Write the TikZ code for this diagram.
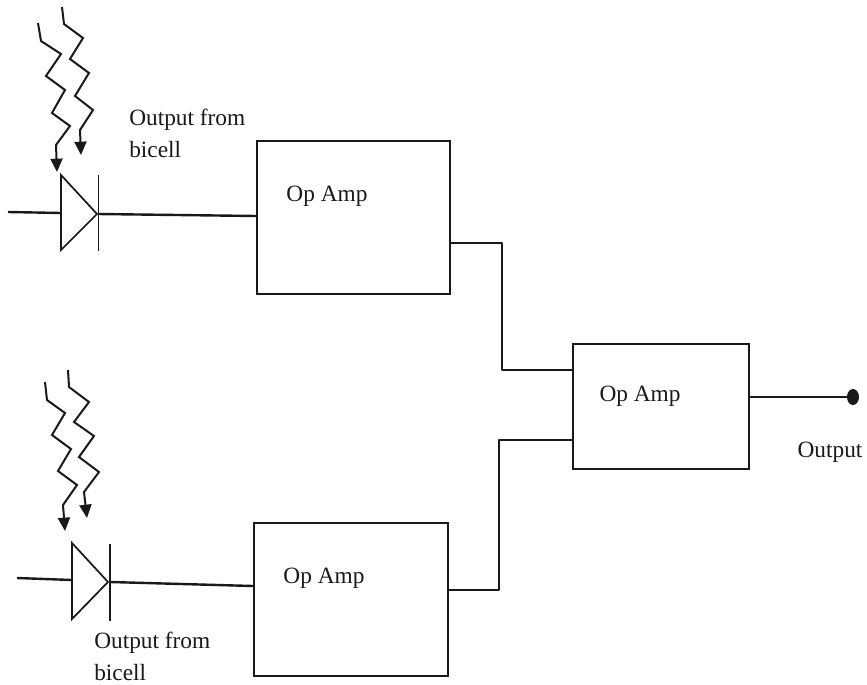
\documentclass[tikz,border=0pt]{standalone}
\usepackage{fontspec}
\setmainfont{Liberation Serif}
\usetikzlibrary{arrows.meta,shapes.geometric}
\tikzset{
  x=0.75pt,y=-0.75pt,
  wire/.style={draw=black!90,line width=1.8pt,line join=round},
  thin wire/.style={draw=black!90,line width=1.3pt},
  ampbox/.style={draw=black!90,line width=1.7pt,inner sep=0pt,anchor=north west},
  ray/.style={draw=black!90,line width=1.5pt,-{Triangle[length=10pt,width=9pt]}},
  lbl/.style={font=\fontsize{17.5pt}{24pt}\selectfont,text=black!90,inner sep=0pt},
  centred/.style={lbl,anchor=base},
  multi/.style={lbl,align=left,anchor=north west},
}
\begin{document}
\begin{tikzpicture}
\useasboundingbox (0,0) rectangle (867,685);
% boxes
\node[ampbox,minimum width=193*0.75pt,minimum height=153*0.75pt] (b1) at (256,140) {};
\node[ampbox,minimum width=194*0.75pt,minimum height=153*0.75pt] (b2) at (253,522) {};
\node[ampbox,minimum width=176*0.75pt,minimum height=125*0.75pt] (b3) at (572,343) {};
\node[centred] (t1) at (327,201) {Op Amp};
\node[centred] (t2) at (324,583) {Op Amp};
\node[centred] (t3) at (640,401) {Op Amp};
% top diode
\coordinate (d1a) at (61,175); \coordinate (d1b) at (61,250); \coordinate (d1c) at (97,214);
\draw[thin wire,line join=miter] (d1a) -- (d1b) -- (d1c) -- cycle;
\coordinate (d1t) at (98.5,175); \coordinate (d1u) at (98.5,251);
\draw[thin wire] (d1t) -- (d1u);
\coordinate (w1) at (8,212); \coordinate (w1e) at (61,213);
\draw[wire] (w1) -- (w1e);
\coordinate (d1o) at (98,214);
\draw[wire] (d1o) -- (b1.west |- 0,216);
% bottom diode
\coordinate (d2a) at (72,543); \coordinate (d2b) at (72,619); \coordinate (d2c) at (108,582);
\draw[thin wire,line join=miter] (d2a) -- (d2b) -- (d2c) -- cycle;
\coordinate (d2t) at (110,544); \coordinate (d2u) at (110,621);
\draw[thin wire] (d2t) -- (d2u);
\coordinate (w2) at (17,578); \coordinate (w2e) at (72,580);
\draw[wire] (w2) -- (w2e);
\coordinate (d2o) at (110,582);
\draw[wire] (d2o) -- (b2.west |- 0,586);
% connections
\draw[wire] (b1.east |- 0,243) -- (502,243) -- (502,370) -- (b3.west |- 0,370);
\draw[wire] (b2.east |- 0,590) -- (499,590) -- (499,440) -- (b3.west |- 0,440);
\node[ellipse,fill=black!90,inner sep=0pt,minimum width=9pt,minimum height=12pt] (dot) at (853,397) {};
\draw[wire] (b3.east |- 0,397) -- (dot);
% rays
\draw[ray] (38,23) -- (41,41) -- (61,54) -- (46,76) -- (65,90) -- (52,113) -- (70,126) -- (56,145) -- (57,172);
\draw[ray] (62,7) -- (64,24) -- (83,38) -- (70,59) -- (89,73) -- (75,96) -- (93,110) -- (80,130) -- (81,155);
\draw[ray] (45,382) -- (47,400) -- (65,413) -- (52,435) -- (71,449) -- (58,471) -- (77,485) -- (63,505) -- (65,531);
\draw[ray] (68,370) -- (69,387) -- (89,402) -- (74,422) -- (94,436) -- (79,457) -- (99,472) -- (84,492) -- (87,518);
% labels
\node[multi] (l1) at (129,109) {Output from\\bicell};
\node[multi] (l2) at (94,632) {Output from\\bicell};
\node[centred] (l3) at (830,457) {Output};
\end{tikzpicture}
\end{document}
